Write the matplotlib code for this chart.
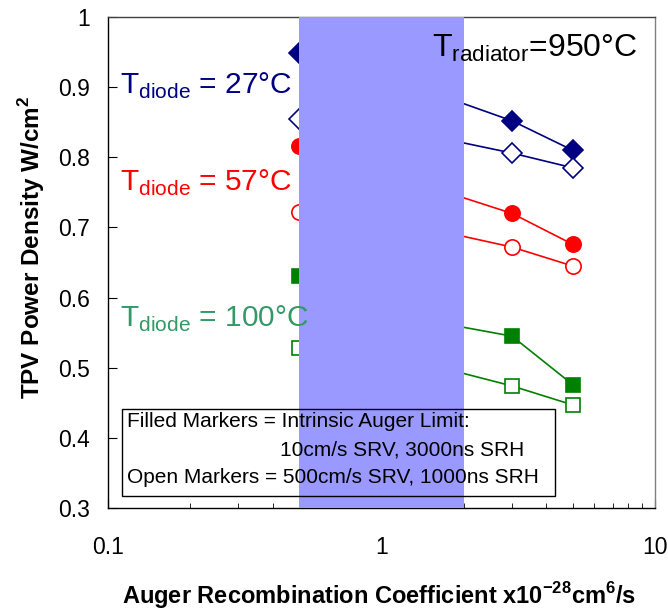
import matplotlib
matplotlib.use("Agg")
import matplotlib.pyplot as plt
from matplotlib.patches import Rectangle

plt.rcParams['font.family'] = ['Liberation Sans', 'DejaVu Sans']

# DATA
auger = [0.5, 1, 3, 5]

# T diode = 27 C
p27_filled = [0.949, 0.918, 0.852, 0.810]
p27_open = [0.855, 0.845, 0.806, 0.785]
# T diode = 57 C
p57_filled = [0.816, 0.780, 0.720, 0.676]
p57_open = [0.722, 0.713, 0.672, 0.645]
# T diode = 100 C
p100_filled = [0.631, 0.579, 0.545, 0.476]
p100_open = [0.528, 0.522, 0.474, 0.447]

shade_range = [0.5, 2]

# COLOURS
navy = '#000080'
red = '#FF0000'
green = '#008000'
label_green = '#339966'

fig = plt.figure(figsize=(6.68, 6.13), dpi=100)
ax = fig.add_axes([0.1617, 0.1713, 0.8188, 0.801])

# PLOT THE SERIES
def series(y, col, mk, ms, filled):
    ax.plot(auger, y, color=col, lw=1.2, marker=mk, ms=ms,
            mfc=col if filled else 'white', mec=col, mew=1.2, zorder=2)

series(p27_filled, navy, 'D', 10, True)
series(p27_open, navy, 'D', 10, False)
series(p57_filled, red, 'o', 11, True)
series(p57_open, red, 'o', 11, False)
series(p100_filled, green, 's', 10, True)
series(p100_open, green, 's', 10, False)

# shaded region sits on top of the data
ax.axvspan(shade_range[0], shade_range[1], color='#9999FF', zorder=3, lw=0)

ax.set_xscale('log')
ax.set_xlim(0.1, 10)
ax.set_ylim(0.3, 1.0)
ax.set_yticks([0.3, 0.4, 0.5, 0.6, 0.7, 0.8, 0.9, 1.0])
ax.set_yticklabels(['0.3', '0.4', '0.5', '0.6', '0.7', '0.8', '0.9', '1'])
ax.set_xticks([0.1, 1, 10])
ax.set_xticklabels(['0.1', '1', '10'])
ax.tick_params(axis='both', which='major', direction='in', length=6.5, labelsize=16.5)
ax.tick_params(axis='y', which='major', pad=13)
ax.tick_params(axis='x', which='major', pad=20)
ax.tick_params(axis='x', which='minor', direction='in', length=3.5)

ax.set_xlabel('Auger Recombination Coefficient x10$^{\\mathregular{-28}}$cm$^{\\mathregular{6}}$/s',
              fontsize=17, fontweight='bold')
ax.set_ylabel('TPV Power Density W/cm$^{\\mathregular{2}}$', fontsize=17.5, fontweight='bold')
ax.xaxis.set_label_coords(0.495, -0.146)
ax.yaxis.set_label_coords(-0.111, 0.53)

for s in ax.spines.values():
    s.set_linewidth(1.0)
ax.spines['right'].set_color('#808080')
ax.spines['top'].set_color('#404040')

# LABELS
lab = dict(fontsize=21.5, va='baseline', zorder=5)
ax.text(0.1105, 0.891, 'T$_{\\mathregular{diode}}$ = 27°C', color=navy, **lab)
ax.text(0.1105, 0.752, 'T$_{\\mathregular{diode}}$ = 57°C', color=red, **lab)
ax.text(0.1105, 0.558, 'T$_{\\mathregular{diode}}$ = 100°C', color=label_green, **lab)
ax.text(1.53, 0.943, 'T$_{\\mathregular{radiator}}$=950°C', color='black', fontsize=23, va='baseline', zorder=5)

# NOTE BOX
ax.add_patch(Rectangle((0.025, 0.0236), 0.792, 0.1778, transform=ax.transAxes,
                       fill=False, ec='black', lw=1.0, zorder=5))
note = dict(transform=ax.transAxes, fontsize=15, va='center', zorder=5)
ax.text(0.034, 0.176, 'Filled Markers = Intrinsic Auger Limit:', **note)
ax.text(0.314, 0.118, '10cm/s SRV, 3000ns SRH', **note)
ax.text(0.034, 0.063, 'Open Markers = 500cm/s SRV, 1000ns SRH', **note)

fig.savefig('out.png', dpi=100)
